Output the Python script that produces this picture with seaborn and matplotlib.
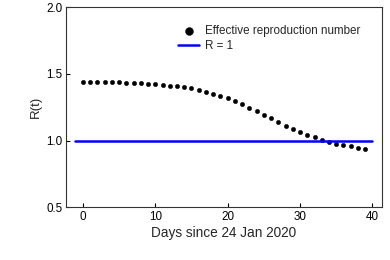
import numpy as np
import pandas as pd
import seaborn as sns
import matplotlib
matplotlib.use('Agg')
import matplotlib.pyplot as plt

# data
days = list(range(40))
r_eff = [1.440, 1.440, 1.439, 1.438, 1.437, 1.436, 1.434, 1.432, 1.429, 1.426,
         1.422, 1.418, 1.413, 1.407, 1.400, 1.392, 1.381, 1.368, 1.352, 1.335,
         1.316, 1.296, 1.272, 1.248, 1.221, 1.195, 1.167, 1.139, 1.112, 1.088,
         1.065, 1.045, 1.024, 1.006, 0.990, 0.977, 0.966, 0.956, 0.948, 0.937]
ref_x = [-1.1, 40]
ref_y = [1.0, 1.0]

df = pd.DataFrame({'day': days, 'R': r_eff})
ref = pd.DataFrame({'day': ref_x, 'R': ref_y})

sns.set_style('ticks')
plt.rcParams['font.family'] = ['Liberation Sans', 'DejaVu Sans']

fig = plt.figure(figsize=(3.9, 2.6), dpi=100)
ax = fig.add_axes([0.170, 0.203, 0.809, 0.769])

sns.scatterplot(data=df, x='day', y='R', ax=ax, color='black', s=10,
                edgecolor='black', linewidth=0.3, label='Effective reproduction number')
sns.lineplot(data=ref, x='day', y='R', ax=ax, color='#0000ff', linewidth=1.8, label='R = 1')

ax.set_xlim(-2.3, 41.3)
ax.set_ylim(0.5, 2.0)
ax.set_xticks([0, 10, 20, 30, 40])
ax.set_yticks([0.5, 1.0, 1.5, 2.0])
ax.tick_params(direction='in', length=3, width=0.8, labelsize=8.4, pad=3, colors='black')
for sp in ax.spines.values():
    sp.set_linewidth(0.8)
    sp.set_color('#333333')
ax.set_xlabel('Days since 24 Jan 2020', fontsize=9.8, labelpad=2)
ax.set_ylabel('R(t)', fontsize=9.5, labelpad=3)

leg = ax.legend(frameon=False, loc='upper left', bbox_to_anchor=(0.355, 0.91),
                fontsize=8.4, handlelength=1.75, handletextpad=0.55,
                labelspacing=0.2, borderpad=0, borderaxespad=0, markerscale=1.8)

fig.savefig('out.png', dpi=100)
